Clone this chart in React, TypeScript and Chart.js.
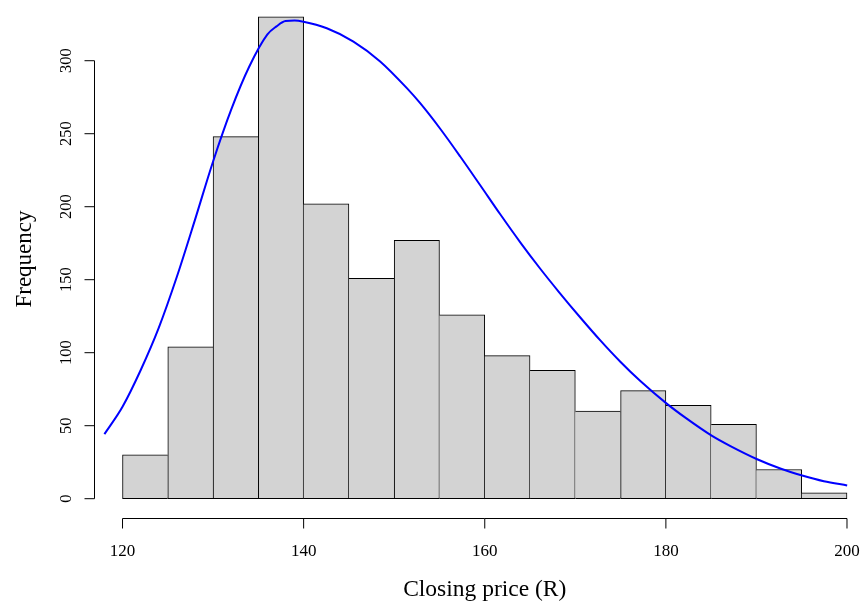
import React, { useEffect, useRef } from "react";
import { Chart, registerables } from "chart.js";

Chart.register(...registerables);

// Histogram bin edges and counts
const binEdges = [120, 125, 130, 135, 140, 145, 150, 155, 160, 165, 170, 175, 180, 185, 190, 195, 200];
const counts = [30, 104, 248, 330, 202, 151, 177, 126, 98, 88, 60, 74, 64, 51, 20, 4];

// Density curve (scaled to frequency)
const curveX = [118, 120, 122, 124, 126, 128, 130, 132, 134, 136, 137, 138, 139, 139.98, 142.56, 145.5, 148.45, 151.4, 152.87, 155.08, 157.29, 159.5, 161.71, 163.92, 166.13, 168.15, 170.55, 172.76, 174.97, 177.18, 180.06, 182.15, 185.1, 187.13, 190.08, 192.71, 195.05, 197.44, 200.02];
const curveY = [44.2, 63, 88, 117, 152, 191, 231, 266.5, 296, 318, 323.5, 327.2, 327.5, 326.7, 322.2, 313.1, 299.5, 281.2, 270.9, 253.4, 234.4, 214.7, 194.8, 175.6, 157.5, 141.9, 124.1, 108.4, 93.8, 80.6, 65.3, 55.5, 43, 36, 27, 20.5, 15.9, 12, 9.1];

// Axis ticks and labels
const xTicks = [120, 140, 160, 180, 200];
const yTicks = [0, 50, 100, 150, 200, 250, 300];
const xLabel = "Closing price (R)";
const yLabel = "Frequency";

const X_MIN = 116.851;
const X_MAX = 201.657;
const Y_MIN = -13.22;
const Y_MAX = 341.58;

const SERIF = '"Liberation Serif", "Times New Roman", serif';

const rAxesPlugin = {
  id: "rAxes",
  afterDraw(chart: any) {
    const ctx = chart.ctx as CanvasRenderingContext2D;
    const xs = chart.scales.x;
    const ys = chart.scales.y;
    ctx.save();
    ctx.strokeStyle = "#000";
    ctx.fillStyle = "#000";
    ctx.lineWidth = 1;

    // y axis
    const axX = 94.5;
    const yTop = ys.getPixelForValue(yTicks[yTicks.length - 1]);
    const yBot = ys.getPixelForValue(yTicks[0]);
    ctx.beginPath();
    ctx.moveTo(axX, yTop);
    ctx.lineTo(axX, yBot);
    yTicks.forEach((t) => {
      const py = ys.getPixelForValue(t);
      ctx.moveTo(axX, py);
      ctx.lineTo(axX - 10, py);
    });
    ctx.stroke();
    ctx.font = "16.5px " + SERIF;
    ctx.textAlign = "center";
    ctx.textBaseline = "alphabetic";
    yTicks.forEach((t) => {
      const py = ys.getPixelForValue(t);
      ctx.save();
      ctx.translate(71, py);
      ctx.rotate(-Math.PI / 2);
      ctx.fillText(String(t), 0, 0);
      ctx.restore();
    });

    // x axis
    const axY = 518.5;
    const xL = xs.getPixelForValue(xTicks[0]);
    const xR = xs.getPixelForValue(xTicks[xTicks.length - 1]);
    ctx.beginPath();
    ctx.moveTo(xL, axY);
    ctx.lineTo(xR, axY);
    xTicks.forEach((t) => {
      const px = xs.getPixelForValue(t);
      ctx.moveTo(px, axY);
      ctx.lineTo(px, axY + 10);
    });
    ctx.stroke();
    ctx.font = "17px " + SERIF;
    xTicks.forEach((t) => {
      const px = xs.getPixelForValue(t);
      ctx.fillText(String(t), px, 555.5);
    });

    // axis titles
    ctx.font = "23.5px " + SERIF;
    const midX = xs.getPixelForValue((xTicks[0] + xTicks[xTicks.length - 1]) / 2);
    ctx.fillText(xLabel, midX, 596);
    ctx.save();
    ctx.translate(31, 259);
    ctx.rotate(-Math.PI / 2);
    ctx.font = "23px " + SERIF;
    ctx.fillText(yLabel, 0, 0);
    ctx.restore();

    ctx.restore();
  },
};

export default function App() {
  const ref = useRef<HTMLCanvasElement | null>(null);

  useEffect(() => {
    document.body.style.margin = "0";
    const canvas = ref.current;
    if (!canvas) return;

    const last = counts.length - 1;
    const barData = counts.map((c, i) => ({ x: (binEdges[i] + binEdges[i + 1]) / 2, y: c }));
    const lineData = curveX.map((x, i) => ({ x, y: curveY[i] }));

    const chart = new Chart(canvas, {
      type: "bar",
      data: {
        datasets: [
          {
            type: "line",
            data: lineData,
            borderColor: "#0000ff",
            borderWidth: 2,
            pointRadius: 0,
            fill: false,
            cubicInterpolationMode: "monotone",
            order: 0,
          } as any,
          {
            type: "bar",
            data: barData,
            backgroundColor: "#d3d3d3",
            borderColor: "#000000",
            borderWidth: (c: any) => {
              const i = c.dataIndex;
              const v = counts[i];
              const prev = i > 0 ? counts[i - 1] : -1;
              const next = i < last ? counts[i + 1] : -1;
              return { top: 1, bottom: 1, left: v >= prev ? 1 : 0, right: v > next ? 1 : 0 };
            },
            borderSkipped: false,
            barPercentage: 1,
            categoryPercentage: 1,
            order: 1,
          } as any,
        ],
      },
      options: {
        responsive: false,
        animation: false,
        events: [],
        layout: { padding: { left: 94, right: 0, top: 0, bottom: 87 } },
        plugins: {
          legend: { display: false },
          title: { display: false },
          tooltip: { enabled: false },
        },
        scales: {
          x: {
            type: "linear",
            min: X_MIN,
            max: X_MAX,
            offset: false,
            display: false,
            afterBuildTicks: (scale: any) => {
              scale.ticks = xTicks.map((v) => ({ value: v }));
            },
          },
          y: {
            type: "linear",
            min: Y_MIN,
            max: Y_MAX,
            display: false,
          },
        },
      } as any,
      plugins: [rAxesPlugin],
    });

    return () => chart.destroy();
  }, []);

  return (
    <div style={{ width: 862, height: 605 }}>
      <canvas ref={ref} width={862} height={605} style={{ display: "block", width: 862, height: 605 }} />
    </div>
  );
}
